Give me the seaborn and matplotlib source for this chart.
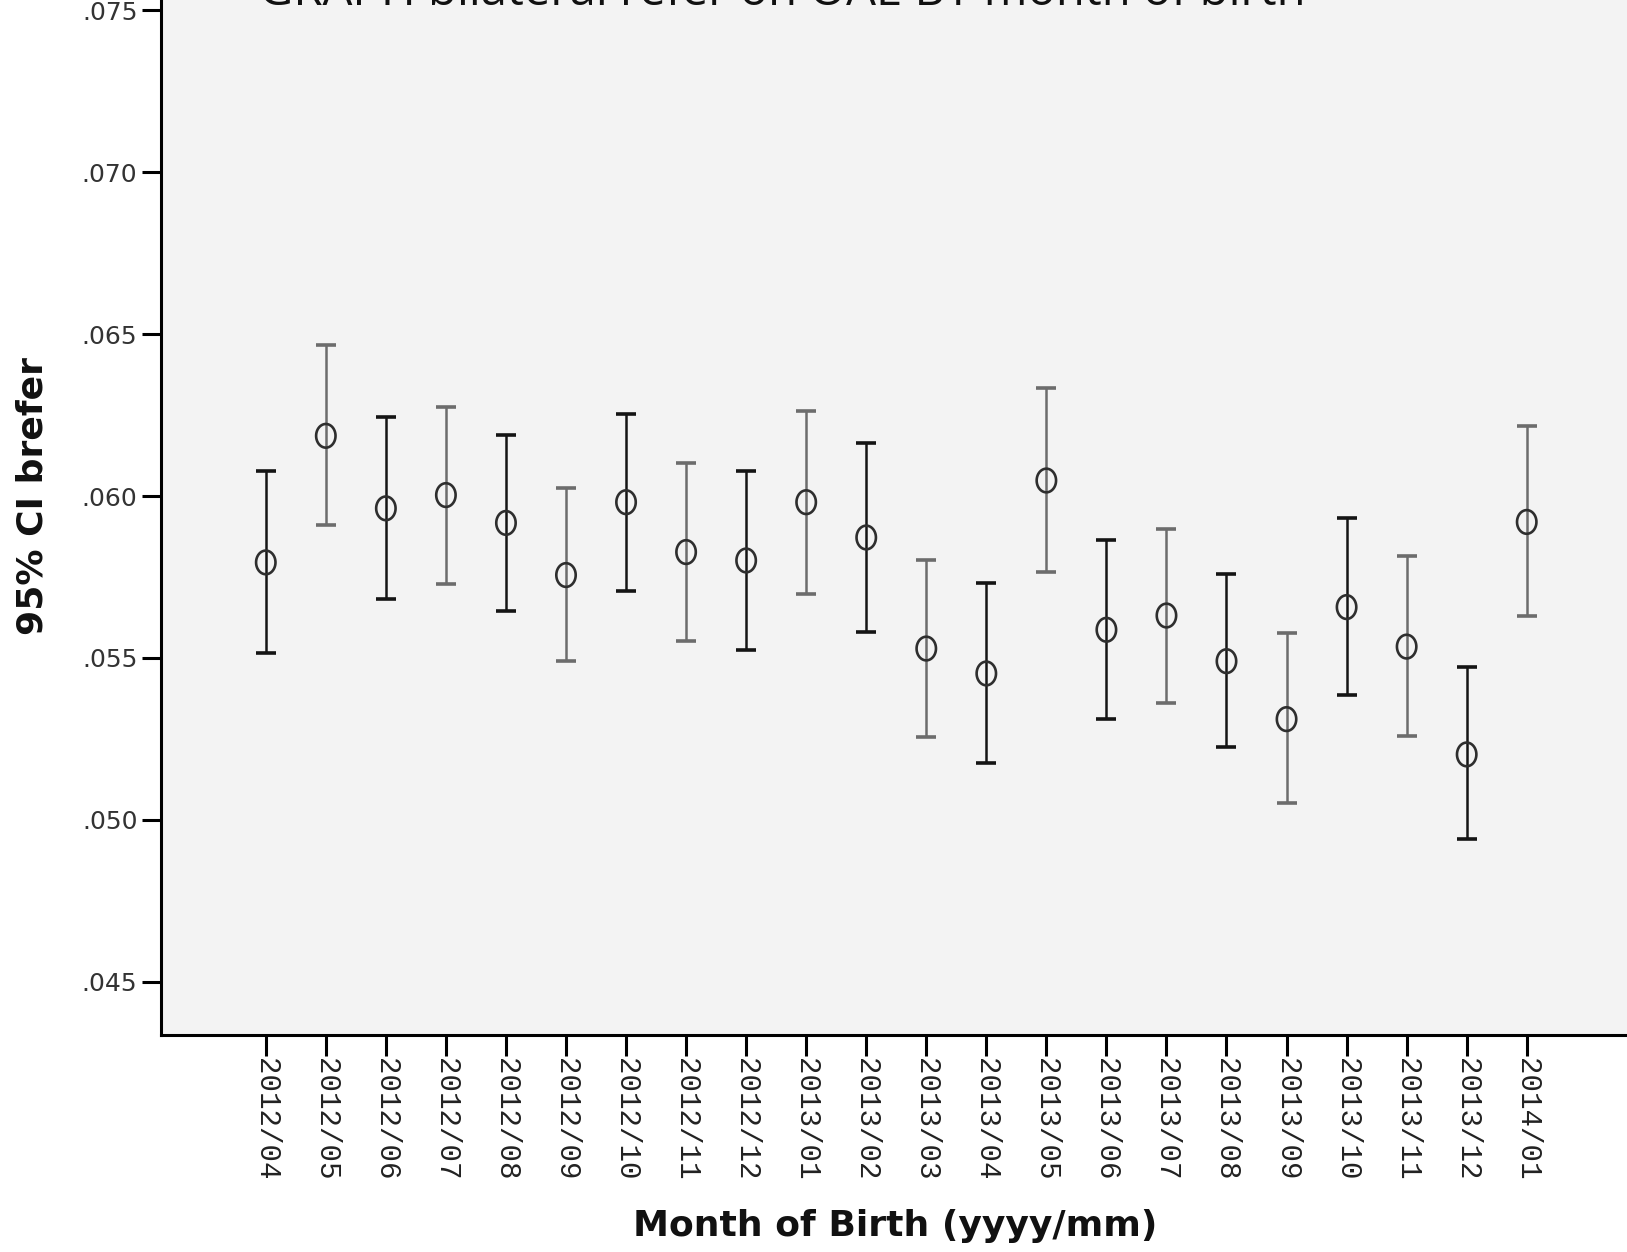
import numpy as np
import pandas as pd
import matplotlib
matplotlib.use("Agg")
import matplotlib.pyplot as plt
from matplotlib.path import Path
import seaborn as sns

months = ["2012/04", "2012/05", "2012/06", "2012/07", "2012/08", "2012/09",
          "2012/10", "2012/11", "2012/12", "2013/01", "2013/02", "2013/03",
          "2013/04", "2013/05", "2013/06", "2013/07", "2013/08", "2013/09",
          "2013/10", "2013/11", "2013/12", "2014/01"]
means = [0.05795, 0.06186, 0.05962, 0.06003, 0.05917, 0.05756,
         0.05981, 0.05827, 0.05801, 0.05981, 0.05872, 0.05529,
         0.05452, 0.06048, 0.05587, 0.05631, 0.05490, 0.05311,
         0.05657, 0.05535, 0.05202, 0.05920]
upper = [0.06077, 0.06465, 0.06244, 0.06276, 0.06189, 0.06026,
         0.06253, 0.06103, 0.06077, 0.06263, 0.06163, 0.05804,
         0.05731, 0.06333, 0.05865, 0.05897, 0.05760, 0.05577,
         0.05933, 0.05814, 0.05471, 0.06215]
lower = [0.05516, 0.05910, 0.05683, 0.05728, 0.05644, 0.05490,
         0.05708, 0.05551, 0.05526, 0.05699, 0.05580, 0.05256,
         0.05176, 0.05766, 0.05311, 0.05362, 0.05224, 0.05051,
         0.05385, 0.05260, 0.04942, 0.05628]
y_ticks = [0.045, 0.050, 0.055, 0.060, 0.065, 0.070, 0.075]
y_tick_labels = [".045", ".050", ".055", ".060", ".065", ".070", ".075"]

title_text = "GRAPH bilateral refer on OAE BY month of birth"
y_label = "95% CI brefer"
x_label = "Month of Birth (yyyy/mm)"

sns.set_style("white")
plt.rcParams["font.family"] = ["DejaVu Sans"]

W, H = 1627, 1252
fig = plt.figure(figsize=(W / 100, H / 100), dpi=100)
fig.patch.set_facecolor("white")
ax = fig.add_axes([161 / W, 217.5 / H, 1 - 161 / W, 1 - 217.5 / H])
ax.set_facecolor("#f3f3f3")

df = pd.DataFrame({"month": months, "mean": means, "upper": upper, "lower": lower})
df["pos"] = np.arange(len(df))

bar_colors = ["#141414" if i % 2 == 0 else "#6c6c6c" for i in range(len(df))]
for i, row in df.iterrows():
    ax.errorbar(row["pos"], row["mean"],
                yerr=[[row["mean"] - row["lower"]], [row["upper"] - row["mean"]]],
                fmt="none", ecolor=bar_colors[i], elinewidth=1.8,
                capsize=7, capthick=2.6, zorder=2)

# slightly tall ellipse marker
t = np.linspace(0, 2 * np.pi, 60)
ell = Path(np.column_stack([0.82 * np.cos(t), np.sin(t)]), closed=True)
sns.scatterplot(data=df, x="pos", y="mean", marker=ell, s=290, ax=ax,
                linewidth=1.9, zorder=3, legend=False)
pts = ax.collections[-1]
pts.set_facecolor("none")
pts.set_edgecolor("#2e2e2e")

ax.set_xlim(-1.745, 22.67)
ax.set_ylim(0.04337, 0.07532)
ax.set_xticks(df["pos"])
ax.set_xticklabels(months, rotation=270, family=["Liberation Mono", "DejaVu Sans Mono"],
                   fontsize=21, color="#222222")
ax.set_yticks(y_ticks)
ax.set_yticklabels(y_tick_labels, family=["DejaVu Sans"],
                   fontsize=18, color="#333333")
ax.tick_params(axis="x", length=15, width=2.2, color="black", pad=2, direction="out", bottom=True)
ax.tick_params(axis="y", length=14, width=2.2, color="black", pad=3, direction="out", left=True)
ax.set_xlabel("")
ax.set_ylabel("")

for s in ["top", "right"]:
    ax.spines[s].set_visible(False)
for s in ["left", "bottom"]:
    ax.spines[s].set_visible(True)
    ax.spines[s].set_linewidth(2.2)
    ax.spines[s].set_color("black")

fig.text(33 / W, 1 - 496 / H, y_label, rotation=90, ha="center", va="center",
         fontsize=26, fontweight="bold", color="#111111")
fig.text(895 / W, 1 - 1226 / H, x_label, ha="center", va="center",
         fontsize=26, fontweight="bold", color="#111111")
fig.text(259 / W, 1 - 5 / H, title_text, ha="left", va="baseline",
         fontsize=34, family=["Open Sans", "DejaVu Sans"], color="#111111")

fig.savefig("out.png", dpi=100, facecolor="white")
